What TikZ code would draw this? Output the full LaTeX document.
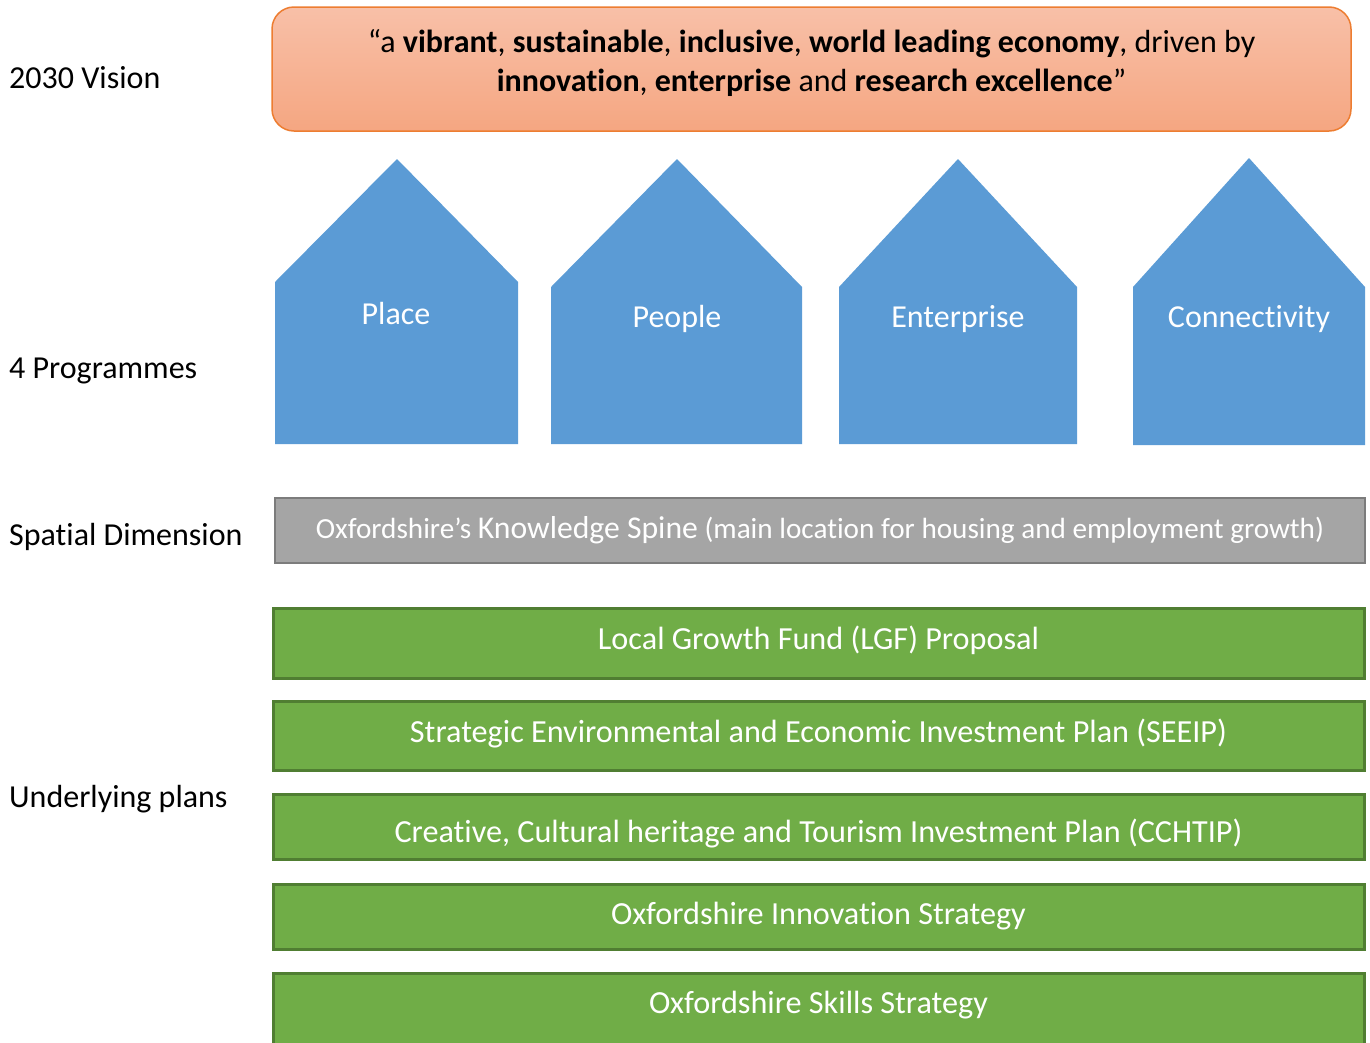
\documentclass[tikz,border=0pt]{standalone}
\usepackage{fontspec}
\setmainfont{Carlito}[RawFeature={-liga;-clig;-calt;-dlig}]
\definecolor{orangeT}{RGB}{248,192,168}
\definecolor{orangeB}{RGB}{245,166,129}
\definecolor{orangeD}{RGB}{237,125,49}
\definecolor{blueH}{RGB}{91,155,213}
\definecolor{greyF}{RGB}{165,165,165}
\definecolor{greyD}{RGB}{124,124,124}
\definecolor{greenF}{RGB}{112,173,71}
\definecolor{greenD}{RGB}{80,126,50}
\tikzset{
  lbl/.style={anchor=west, inner sep=0pt, font=\fontsize{32}{38}\selectfont},
  housetxt/.style={text=white, inner sep=0pt, font=\fontsize{32}{38}\selectfont},
  house/.style={fill=blueH, draw=none},
  greenbox/.style={fill=greenF, draw=greenD, line width=3pt},
  greentxt/.style={text=white, inner sep=0pt, font=\fontsize{32.2}{38}\selectfont},
}
\begin{document}
\begin{tikzpicture}[x=1pt,y=-1pt]
\useasboundingbox (0,0) rectangle (1370,1042);
% left labels
\node[lbl] (lvision) at (9,78) {2030 Vision};
\node[lbl] (lprog) at (9,371) {4 Programmes};
\node[lbl] (lspat) at (9,537) {Spatial Dimension};
\node[lbl] (lunder) at (9,799) {Underlying plans};
% vision box
\draw[rounded corners=22pt, top color=orangeT, bottom color=orangeB, draw=orangeD, line width=1.5pt] (272,7) rectangle (1351,131);
\node[inner sep=0pt, align=center, font=\fontsize{32}{39}\selectfont] (vision) at (811.5,63)
  {“a \textbf{vibrant}, \textbf{sustainable}, \textbf{inclusive}, \textbf{world leading economy}, driven by\\
   \textbf{innovation}, \textbf{enterprise} and \textbf{research excellence}”};
% houses
\fill[house] (275,444) -- (275,282) -- (397,159) -- (518,282) -- (518,444) -- cycle;
\fill[house] (551,444) -- (551,287) -- (677,159) -- (802,287) -- (802,444) -- cycle;
\fill[house] (839,444) -- (839,287) -- (958,159) -- (1077,287) -- (1077,444) -- cycle;
\fill[house] (1133,445) -- (1133,287) -- (1249,158) -- (1365,287) -- (1365,445) -- cycle;
\node[housetxt] (place) at (396,314) {Place};
\node[housetxt] (people) at (677,319) {People};
\node[housetxt] (enter) at (958,319) {Enterprise};
\node[housetxt] (conn) at (1249,319) {Connectivity};
% spatial
\draw[fill=greyF, draw=greyD, line width=2.5pt] (275,498) rectangle (1365,563);
\node[inner sep=0pt, text=white, font=\fontsize{29.2}{34}\selectfont] (spine) at (820,530)
  {Oxfordshire’s {\fontsize{31.7}{34}\selectfont Knowledge Spine} (main location for housing and employment growth)};
% green plans
\draw[greenbox] (273,608) rectangle (1364,678);
\draw[greenbox] (273,701) rectangle (1364,770);
\draw[greenbox] (273,794) rectangle (1364,859);
\draw[greenbox] (273,884) rectangle (1364,949);
\draw[greenbox] (273,973) rectangle (1364,1060);
\node[greentxt] (lgf) at (818.5,640) {Local Growth Fund (LGF) Proposal};
\node[greentxt] (seeip) at (818.5,733) {Strategic Environmental and Economic Investment Plan (SEEIP)};
\node[greentxt] (cchtip) at (818.5,833) {Creative, Cultural heritage and Tourism Investment Plan (CCHTIP)};
\node[greentxt] (innov) at (818.5,916) {Oxfordshire Innovation Strategy};
\node[greentxt] (skills) at (818.5,1005) {Oxfordshire Skills Strategy};
\end{tikzpicture}
\end{document}
